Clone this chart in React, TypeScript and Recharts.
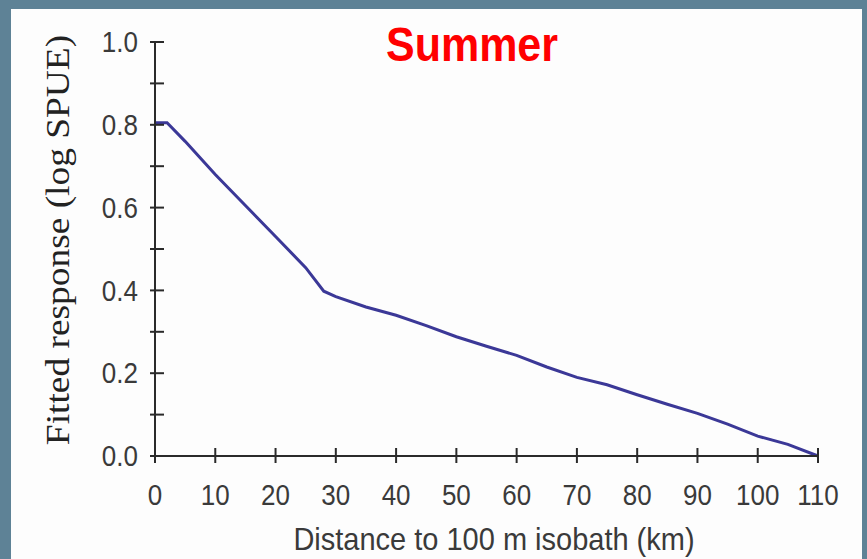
import React from 'react';
import { LineChart, Line, XAxis, YAxis } from 'recharts';

// fitted curve
const DISTANCE_KM = [0, 2, 5, 10, 15, 20, 25, 28, 30, 35, 40, 45, 50, 55, 60, 65, 70, 75, 80, 85, 90, 95, 100, 105, 110];
const FITTED_LOG_SPUE = [
  0.805, 0.805, 0.76, 0.68, 0.605, 0.53, 0.455, 0.398, 0.385, 0.36, 0.34, 0.315, 0.288,
  0.265, 0.243, 0.215, 0.19, 0.172, 0.148, 0.125, 0.103, 0.077, 0.048, 0.028, 0.0,
];

const X_TICKS = [0, 10, 20, 30, 40, 50, 60, 70, 80, 90, 100, 110];
const Y_TICKS = [0, 0.1, 0.2, 0.3, 0.4, 0.5, 0.6, 0.7, 0.8, 0.9, 1.0];
const Y_TICK_LABELS = ['0.0', '', '0.2', '', '0.4', '', '0.6', '', '0.8', '', '1.0'];

const TITLE = 'Summer';
const X_TITLE = 'Distance to 100 m isobath (km)';
const Y_TITLE = 'Fitted response (log SPUE)';

const data = DISTANCE_KM.map((d, i) => ({ km: d, fit: FITTED_LOG_SPUE[i] }));

const SANS = '"Liberation Sans", Arial, sans-serif';
const SERIF = '"Liberation Serif", "Times New Roman", serif';
const AXIS = '#2a2a2a';
const LABEL = '#3a3a3a';

// the scan is a little stretched vertically, so labels get a taller scale
const YTick = (props: any) => {
  const { x, y, index } = props;
  return (
    <g>
      <line x1={x - 5} x2={x + 9} y1={y} y2={y} stroke={AXIS} strokeWidth={2} />
      <text
        transform={`translate(${x - 17},${y}) scale(1,1.15)`}
        textAnchor="end"
        dominantBaseline="central"
        fontFamily={SANS}
        fontSize={26}
        fill={LABEL}
      >
        {Y_TICK_LABELS[index]}
      </text>
    </g>
  );
};

const XTick = (props: any) => {
  const { x, y, payload } = props;
  return (
    <g>
      <line x1={x} x2={x} y1={y - 8} y2={y + 7} stroke={AXIS} strokeWidth={2} />
      <text
        transform={`translate(${x},${y + 49}) scale(1,1.15)`}
        textAnchor="middle"
        fontFamily={SANS}
        fontSize={26}
        fill={LABEL}
      >
        {payload.value}
      </text>
    </g>
  );
};

export default function App() {
  return (
    <div style={{ position: 'fixed', left: 0, top: 0, width: 867, height: 559, background: '#5e8296', overflow: 'hidden' }}>
      <div style={{ position: 'absolute', left: 11, top: 9, width: 851, height: 550, background: '#fdfdfd' }} />
      <div style={{ position: 'absolute', left: 0, top: 0 }}>
        <LineChart width={867} height={559} data={data} margin={{ top: 42, right: 49, left: 95, bottom: 43 }}>
          <XAxis
            dataKey="km"
            type="number"
            domain={[0, 110]}
            ticks={X_TICKS}
            interval={0}
            height={60}
            tickSize={0}
            tickMargin={0}
            tickLine={false}
            axisLine={{ stroke: AXIS, strokeWidth: 2 }}
            tick={<XTick />}
          />
          <YAxis
            type="number"
            domain={[0, 1]}
            ticks={Y_TICKS}
            interval={0}
            width={60}
            tickSize={0}
            tickMargin={0}
            tickLine={false}
            axisLine={{ stroke: AXIS, strokeWidth: 2 }}
            tick={<YTick />}
          />
          <Line
            type="linear"
            dataKey="fit"
            stroke="#3b3897"
            strokeWidth={3}
            dot={false}
            isAnimationActive={false}
          />
        </LineChart>
      </div>
      <svg width={867} height={559} style={{ position: 'absolute', left: 0, top: 0, pointerEvents: 'none' }}>
        <text
          transform="translate(472,61) scale(1,1.1)"
          textAnchor="middle"
          fontFamily={SANS}
          fontWeight="bold"
          fontSize={43}
          fill="#ff0000"
        >
          {TITLE}
        </text>
        <text
          transform="translate(494,550) scale(1,1.1)"
          textAnchor="middle"
          fontFamily={SANS}
          fontSize={29}
          fill={LABEL}
        >
          {X_TITLE}
        </text>
        <text
          transform="translate(58,240) rotate(-90) scale(1.1,1)"
          textAnchor="middle"
          dominantBaseline="central"
          fontFamily={SERIF}
          fontSize={34}
          fill="#222"
        >
          {Y_TITLE}
        </text>
      </svg>
    </div>
  );
}
